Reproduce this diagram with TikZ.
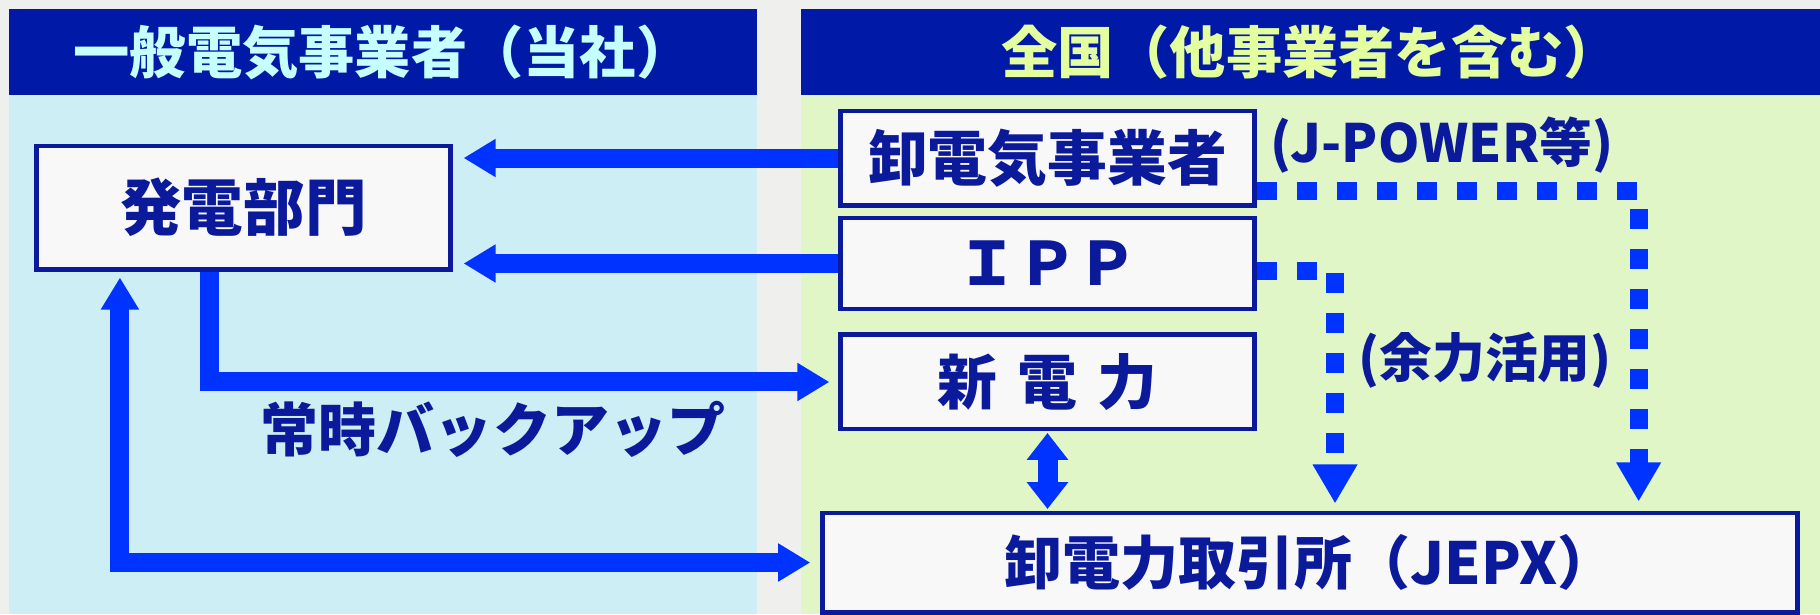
\documentclass[tikz,border=0pt]{standalone}
\usepackage{fontspec}
\usepackage{xcolor}
\usetikzlibrary{arrows.meta, positioning}
\newfontfamily\jpfont{Noto Sans CJK JP}
\IfFontExistsTF{Noto Sans CJK JP Black}
  {\newfontfamily\jpheavy{Noto Sans CJK JP Black}}
  {\newcommand\jpheavy{\jpfont\bfseries}}
\definecolor{PageGray}{HTML}{EFF0EE}
\definecolor{PanelBlue}{HTML}{CDEEF5}
\definecolor{PanelGreen}{HTML}{E0F6C6}
\definecolor{HeadNavy}{HTML}{0019A6}
\definecolor{HeadCyan}{HTML}{C5FFFF}
\definecolor{HeadLime}{HTML}{E3FFA0}
\definecolor{BoxNavy}{HTML}{0A1A9A}
\definecolor{BoxWhite}{HTML}{F8F8F8}
\definecolor{FlowBlue}{HTML}{0033FF}

\begin{document}
\begin{tikzpicture}[
    x=0.01cm, y=-0.01cm,
    hdr/.style={fill=HeadNavy, minimum height=0.86cm, inner sep=0pt, font=\jpfont\bfseries\fontsize{16}{18}\selectfont},
    unitbox/.style={draw=BoxNavy, line width=1.4pt, fill=BoxWhite, text=BoxNavy, minimum width=4.13cm, inner sep=0pt, font=\jpheavy\fontsize{17}{20}\selectfont},
    flow/.style={-{Triangle[length=0.32cm, width=0.36cm]}, line width=0.19cm, color=FlowBlue},
    both/.style={flow, {Triangle[length=0.32cm, width=0.36cm]}-{Triangle[length=0.32cm, width=0.36cm]}},
    swap/.style={flow, line width=0.2cm, {Triangle[length=0.27cm, width=0.4cm]}-{Triangle[length=0.27cm, width=0.4cm]}},
    spare/.style={flow, line width=0.18cm, dash pattern=on 0.2cm off 0.2cm, -{Triangle[length=0.39cm, width=0.42cm]}},
    note/.style={text=BoxNavy, inner sep=0pt, font=\jpheavy\fontsize{15}{18}\selectfont}
]
    \useasboundingbox (0,0) rectangle (1820,614);
    \fill[PageGray] (0,0) rectangle (1820,614);
    \fill[PanelBlue] (9,95) rectangle (757,614);
    \fill[PanelGreen] (801,95) rectangle (1820,614);

    % headers
    \node[hdr, minimum width=7.48cm, text=HeadCyan] (ownhdr) at (383,52) {一般電気事業者（当社）};
    \node[hdr, minimum width=10.19cm, text=HeadLime] (allhdr) at (1310.5,52) {全国（他事業者を含む）};

    % boxes
    \node[unitbox, minimum height=1.23cm, font=\jpheavy\fontsize{17.5}{20}\selectfont] (gen) at (243.5,207.5) {発電部門};
    \node[unitbox, minimum height=0.94cm] (whole) at (1047.5,158) {卸電気事業者};
    \node[unitbox, minimum height=0.91cm, below=0.08cm of whole] (ipp) {ＩＰＰ};
    \node[unitbox, minimum height=0.94cm, below=0.21cm of ipp] (pps) {新\hspace{0.2cm}電\hspace{0.2cm}力};
    \node[unitbox, minimum width=9.74cm, minimum height=0.99cm, font=\jpheavy\fontsize{16.5}{20}\selectfont] (jepx) at (1310,562.5) {卸電力取引所（JEPX）};

    % labels
    \node[note] (jpow) at (1442,145) {(J-POWER等)};
    \node[note] (yoryoku) at (1485,360) {(余力活用)};
    \node[note, font=\jpheavy\fontsize{16.5}{20}\selectfont] (backup) at (493,429) {常時バックアップ};

    % connectors
    \draw[flow, shorten >=0.11cm] (whole.west) -- (whole.west -| gen.east);
    \draw[flow, shorten >=0.11cm] (ipp.west) -- (ipp.west -| gen.east);
    \draw[flow, shorten >=0.09cm] ([xshift=-0.335cm]gen.south) |- (pps.west);
    \draw[both, shorten <=0.06cm, shorten >=0.1cm] ([xshift=-1.235cm]gen.south) |- (jepx.west);
    \draw[swap, shorten <=0.015cm, shorten >=0.015cm] (pps.south) -- (pps.south |- jepx.north);
    \draw[spare, shorten >=0.09cm] ([yshift=-0.33cm]whole.east) -| ([xshift=-1.61cm]jepx.north east);
    \draw[spare, shorten >=0.07cm] ([yshift=-0.075cm]ipp.east) -| ([xshift=0.25cm]jepx.north);
\end{tikzpicture}
\end{document}
